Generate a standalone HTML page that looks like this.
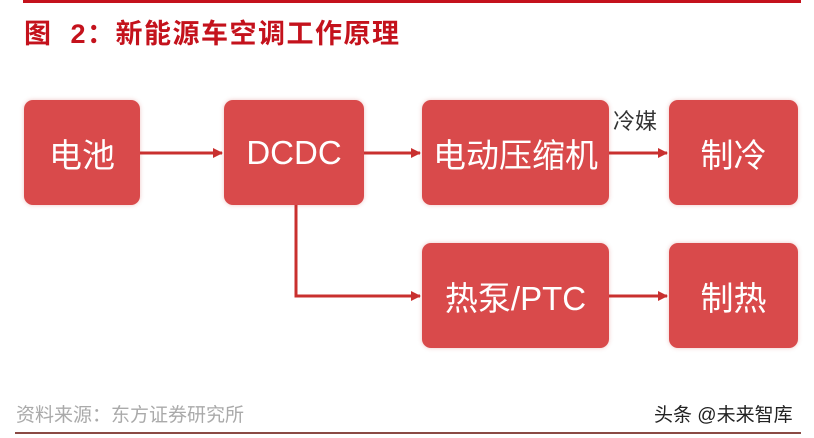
<!DOCTYPE html>
<html><head><meta charset="utf-8"><style>
body{margin:0;width:814px;height:438px;background:#fff;position:relative;overflow:hidden;font-family:"Liberation Sans","Noto Sans CJK SC",sans-serif}
.b{position:absolute;background:#d94a4b;border-radius:9px;color:#fff;display:flex;align-items:center;justify-content:center;font-size:33px;box-shadow:0 0 4px rgba(200,60,60,.3)}
.t{position:absolute;left:24px;top:12px;font-size:27px;font-weight:bold;color:#c4121c;letter-spacing:1.5px}
</style></head><body>
<div style="position:absolute;left:23px;top:0;width:778px;height:3px;background:#c4121c"></div>
<div class="t">图&nbsp; 2：新能源车空调工作原理</div>
<div class="b" style="left:24px;top:100px;width:116px;height:105px">电池</div>
<div class="b" style="left:224px;top:100px;width:140px;height:105px">DCDC</div>
<div class="b" style="left:422px;top:100px;width:187px;height:105px">电动压缩机</div>
<div class="b" style="left:669px;top:100px;width:129px;height:105px">制冷</div>
<div class="b" style="left:422px;top:243px;width:187px;height:105px">热泵/PTC</div>
<div class="b" style="left:669px;top:243px;width:129px;height:105px">制热</div>
<svg style="position:absolute;left:0;top:0" width="814" height="438">
<defs><marker id="a" markerWidth="10" markerHeight="10" refX="9" refY="5" orient="auto" markerUnits="userSpaceOnUse"><path d="M0,0 L10,5 L0,10 z" fill="#c9302f"/></marker></defs>
<g stroke="#c9302f" stroke-width="3" fill="none">
<line x1="140" y1="153" x2="222" y2="153" marker-end="url(#a)"/>
<line x1="364" y1="153" x2="420" y2="153" marker-end="url(#a)"/>
<line x1="609" y1="153" x2="667" y2="153" marker-end="url(#a)"/>
<polyline points="296,205 296,296 420,296" marker-end="url(#a)"/>
<line x1="609" y1="296" x2="667" y2="296" marker-end="url(#a)"/>
</g></svg>
<div style="position:absolute;left:613px;top:104px;font-size:22px;color:#333">冷媒</div>
<div style="position:absolute;left:16px;top:400px;font-size:19px;color:#aaa">资料来源：东方证券研究所</div>
<div style="position:absolute;left:654px;top:400px;font-size:19px;color:#222">头条 @未来智库</div>
<div style="position:absolute;left:15px;top:432px;width:786px;height:2px;background:#8a4a44"></div>
</body></html>
